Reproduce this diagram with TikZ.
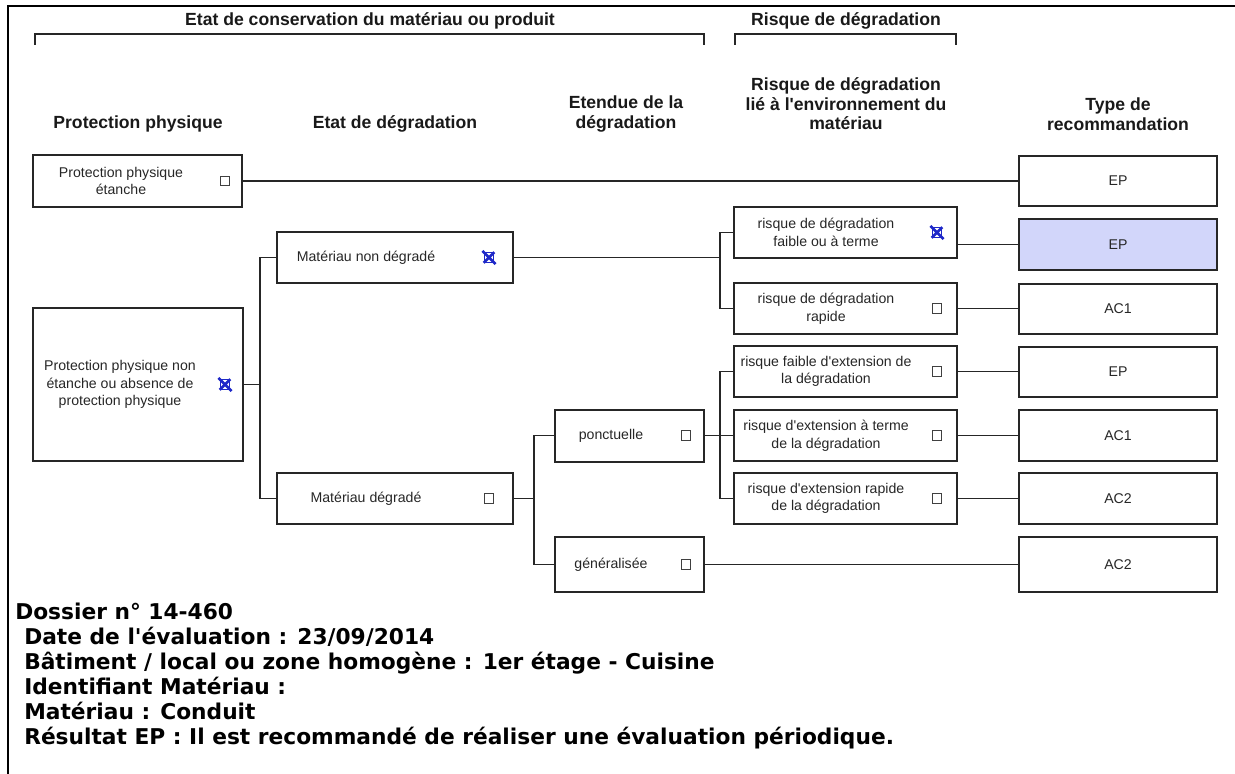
\documentclass[tikz,border=0pt]{standalone}
\usepackage{fontspec}
\setmainfont{Liberation Sans}
\newfontfamily\dossierfont{DejaVu Sans}
\usetikzlibrary{calc}
\definecolor{selfill}{RGB}{210,214,250}
\definecolor{chkblue}{RGB}{30,40,200}
\tikzset{
  cadre/.style 2 args={draw=black!85,line width=1.5pt,inner sep=0pt,
    minimum width=#1*0.75pt,minimum height=#2*0.75pt},
  lbl/.style={align=center,font=\fontsize{10.6}{13.2}\selectfont,text=black!85,inner sep=0pt},
  tete/.style={align=center,font=\bfseries\fontsize{13.2}{14.6}\selectfont,text=black!90,inner sep=0pt},
  chk/.style={draw=black!75,line width=0.7pt,minimum size=7.3pt,inner sep=0pt},
  chkx/.style={chk,draw=chkblue},
  croix/.style={chkblue,line width=2.1pt,shorten <=-1.3pt,shorten >=-1.3pt},
  lien/.style={draw=black!85,line width=1.3pt},
  dossier/.style={anchor=base west,inner sep=0pt,font=\dossierfont\bfseries\fontsize{16.3}{18}\selectfont},
}
\begin{document}
\begin{tikzpicture}[x=0.75pt,y=-0.75pt]
\useasboundingbox (0,0) rectangle (1235,774);
% cadre
\draw[line width=2.2pt] (8,774) -- (8,6) -- (1235,6);

% en-tetes
\node[tete] (hconserv) at (370,21) {Etat de conservation du matériau ou produit};
\node[tete] (hrisque) at (846,21) {Risque de dégradation};
\draw[line width=1.1pt,black!85] (35,45) -- (35,34) -- (704,34) -- (704,45);
\draw[line width=1.1pt,black!85] (735,45) -- (735,34) -- (956,34) -- (956,45);
\node[tete] (hprot) at (138,124) {Protection physique};
\node[tete] (hetat) at (395,124) {Etat de dégradation};
\node[tete] (hetend) at (626,114) {Etendue de la\\dégradation};
\node[tete] (henv) at (846,104) {Risque de dégradation\\lié à l\textquotesingle environnement du\\matériau};
\node[tete] (htype) at (1118,114) {Type de\\recommandation};

% colonne 1
\node[cadre={209}{52}] (etanche) at (137.5,181) {};
\node[lbl] (etanchet) at (121,181) {Protection physique\\étanche};
\node[chk] (etanchec) at (225,181) {};
\node[cadre={210}{153}] (nonetanche) at (138,384.5) {};
\node[lbl] (nonetanchet) at (120,384.5) {Protection physique non\\étanche ou absence de\\protection physique};
\node[chkx] (nonetanchec) at (225,384.5) {};
\draw[croix] (nonetanchec.south west) -- (nonetanchec.north east) (nonetanchec.north west) -- (nonetanchec.south east);

% colonne 2
\node[cadre={236}{51}] (nondegr) at (395,257.5) {};
\node[lbl] (nondegrt) at (366,257.5) {Matériau non dégradé};
\node[chkx] (nondegrc) at (489,257.5) {};
\draw[croix] (nondegrc.south west) -- (nondegrc.north east) (nondegrc.north west) -- (nondegrc.south east);
\node[cadre={236}{51}] (degr) at (395,498.5) {};
\node[lbl] (degrt) at (366,498.5) {Matériau dégradé};
\node[chk] (degrc) at (489,498.5) {};

% colonne 3
\node[cadre={149}{52}] (ponct) at (629.5,435.5) {};
\node[lbl] (ponctt) at (611,435.5) {ponctuelle};
\node[chk] (ponctc) at (686,435.5) {};
\node[cadre={149}{55}] (gener) at (629.5,564.5) {};
\node[lbl] (genert) at (611,564.5) {généralisée};
\node[chk] (generc) at (686,564.5) {};

% colonne 4
\node[cadre={223}{51}] (rfaible) at (845.5,232.5) {};
\node[lbl] (rfaiblet) at (826,232.5) {risque de dégradation\\faible ou à terme};
\node[chkx] (rfaiblec) at (937,232.5) {};
\draw[croix] (rfaiblec.south west) -- (rfaiblec.north east) (rfaiblec.north west) -- (rfaiblec.south east);
\node[cadre={223}{51}] (rrapide) at (845.5,308.5) {};
\node[lbl] (rrapidet) at (826,308.5) {risque de dégradation\\rapide};
\node[chk] (rrapidec) at (937,308.5) {};
\node[cadre={223}{51}] (extfaible) at (845.5,371.5) {};
\node[lbl] (extfaiblet) at (826,371.5) {risque faible d\textquotesingle extension de\\la dégradation};
\node[chk] (extfaiblec) at (937,371.5) {};
\node[cadre={223}{51}] (extterme) at (845.5,435.5) {};
\node[lbl] (extermet) at (826,435.5) {risque d\textquotesingle extension à terme\\de la dégradation};
\node[chk] (extermec) at (937,435.5) {};
\node[cadre={223}{51}] (extrapide) at (845.5,498.5) {};
\node[lbl] (extrapidet) at (826,498.5) {risque d\textquotesingle extension rapide\\de la dégradation};
\node[chk] (extrapidec) at (937,498.5) {};

% colonne 5
\node[cadre={198}{50},lbl] (ep1) at (1118,181) {EP};
\node[cadre={198}{51},lbl,fill=selfill] (ep2) at (1118,244.5) {EP};
\node[cadre={198}{50},lbl] (ac1a) at (1118,308.5) {AC1};
\node[cadre={198}{50},lbl] (ep3) at (1118,371.5) {EP};
\node[cadre={198}{51},lbl] (ac1b) at (1118,435.5) {AC1};
\node[cadre={198}{51},lbl] (ac2a) at (1118,498.5) {AC2};
\node[cadre={198}{55},lbl] (ac2b) at (1118,564.5) {AC2};

% liaisons
\coordinate (fk1) at ($(nonetanche.east)+(16,0)$);
\coordinate (fk2) at (720,257.5);
\coordinate (fk3) at ($(degr.east)+(20,0)$);
\coordinate (fk4) at (720,435.5);
\draw[lien] (etanche.east) -- (ep1.west);
\draw[lien] (nonetanche.east) -- (fk1);
\draw[lien] (nondegr.west) -| (fk1) |- (degr.west);
\draw[lien] (nondegr.east) -- (fk2);
\draw[lien] (rfaible.west) -| (fk2) |- (rrapide.west);
\draw[lien] (degr.east) -- (fk3);
\draw[lien] (ponct.west) -| (fk3) |- (gener.west);
\draw[lien] (ponct.east) -- (extterme.west);
\draw[lien] (extfaible.west) -| (fk4) |- (extrapide.west);
\draw[lien] (gener.east) -- (ac2b.west);
\draw[lien] (rfaible.east |- ep2.west) -- (ep2.west);
\draw[lien] (rrapide.east) -- (ac1a.west);
\draw[lien] (extfaible.east) -- (ep3.west);
\draw[lien] (extterme.east) -- (ac1b.west);
\draw[lien] (extrapide.east) -- (ac2a.west);

% dossier
\node[dossier] (dos) at (15,619) {Dossier n° 14-460};
\node[dossier] (dosdate) at (24,644) {Date de l\textquotesingle évaluation : 23/09/2014};
\node[dossier] (dosbat) at (24,669) {Bâtiment / local ou zone homogène : 1er étage - Cuisine};
\node[dossier] (dosid) at (24,694) {Identifiant Matériau :};
\node[dossier] (dosmat) at (24,719) {Matériau : Conduit};
\node[dossier] (dosres) at (24,744) {Résultat EP : Il est recommandé de réaliser une évaluation périodique.};
\end{tikzpicture}
\end{document}
